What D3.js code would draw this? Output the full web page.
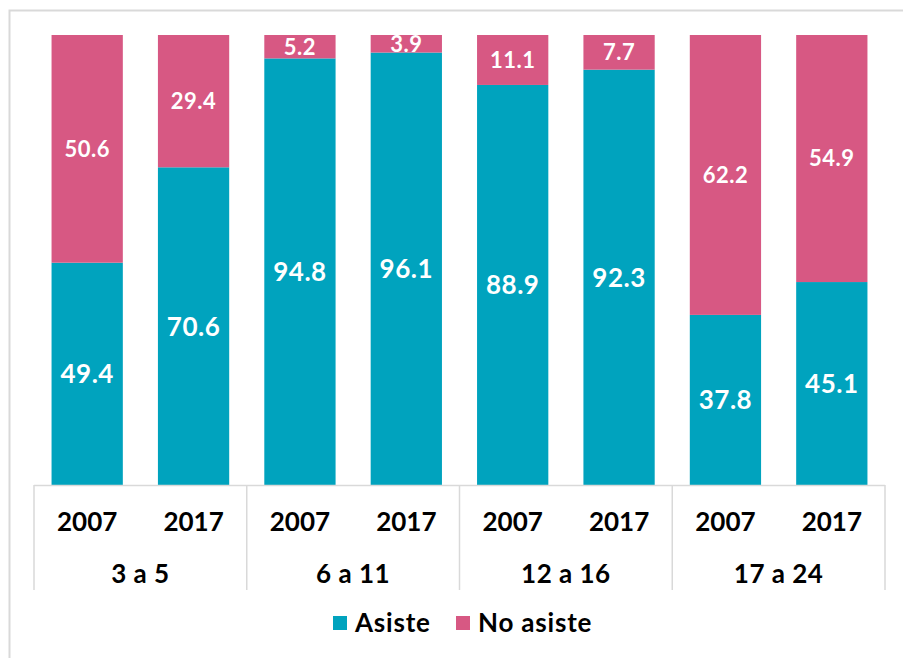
<!DOCTYPE html>
<html>
<head>
<meta charset="utf-8">
<script src="https://cdn.jsdelivr.net/npm/d3@7"></script>
<style>
  body { margin: 0; background: #fff; }
  svg { display: block; font-family: "Century Gothic", Lato, "Liberation Sans", sans-serif; font-weight: bold; }
</style>
</head>
<body>
<div id="chart"></div>
<script>
var groups = ["3 a 5", "6 a 11", "12 a 16", "17 a 24"];
var years = ["2007", "2017"];
var asiste = [49.4, 70.6, 94.8, 96.1, 88.9, 92.3, 37.8, 45.1];
var noAsiste = [50.6, 29.4, 5.2, 3.9, 11.1, 7.7, 62.2, 54.9];
var seriesNames = ["Asiste", "No asiste"];

function init() {
    var w = 903, h = 658;
    var teal = "#00a3be", pink = "#d75883";

    var svg = d3.select("#chart")
        .append("svg")
        .attr("width", w)
        .attr("height", h);

    // outer frame
    svg.append("rect")
        .attr("x", 9.5).attr("y", 10.5)
        .attr("width", 900).attr("height", 700)
        .attr("fill", "none")
        .attr("stroke", "#d9d9d9")
        .attr("stroke-width", 2);

    var data = [];
    groups.forEach(function(g, gi) {
        years.forEach(function(yr, yi) {
            var i = gi * years.length + yi;
            data.push({ group: g, year: yr, asiste: asiste[i], no: noAsiste[i] });
        });
    });

    var x0 = d3.scaleBand().domain(groups).range([34, 885]);
    var x1 = d3.scaleBand().domain(years).range([0, x0.bandwidth()])
        .paddingInner(0.33).paddingOuter(0.165);
    var y = d3.scaleLinear().domain([0, 100]).range([485, 35]);

    var bars = svg.selectAll("g.bar")
        .data(data)
        .enter()
        .append("g")
        .attr("class", "bar")
        .attr("transform", function(d) { return "translate(" + (x0(d.group) + x1(d.year)) + ",0)"; });

    bars.append("rect")
        .attr("y", function(d) { return y(d.asiste); })
        .attr("width", x1.bandwidth())
        .attr("height", function(d) { return y(0) - y(d.asiste); })
        .attr("fill", teal);

    bars.append("rect")
        .attr("y", function(d) { return y(d.asiste + d.no); })
        .attr("width", x1.bandwidth())
        .attr("height", function(d) { return y(d.asiste) - y(d.asiste + d.no); })
        .attr("fill", pink);

    bars.append("text")
        .attr("x", x1.bandwidth() / 2)
        .attr("y", function(d) { return (y(0) + y(d.asiste)) / 2; })
        .attr("dy", "0.36em")
        .attr("text-anchor", "middle")
        .attr("fill", "#fff")
        .attr("font-size", 26)
        .attr("letter-spacing", 0.5)
        .text(function(d) { return d.asiste.toFixed(1); });

    bars.append("text")
        .attr("x", x1.bandwidth() / 2)
        .attr("y", function(d) { return (y(d.asiste) + y(d.asiste + d.no)) / 2; })
        .attr("dy", "0.36em")
        .attr("text-anchor", "middle")
        .attr("fill", "#fff")
        .attr("font-size", 22)
        .attr("letter-spacing", 0.5)
        .text(function(d) { return d.no.toFixed(1); });

    // category axis with two levels
    var axis = svg.append("g");
    axis.append("line")
        .attr("x1", 34).attr("x2", 885)
        .attr("y1", 485.5).attr("y2", 485.5)
        .attr("stroke", "#d9d9d9").attr("stroke-width", 1.5);

    var seps = groups.map(function(g) { return x0(g); }).concat([885]);
    axis.selectAll("line.sep")
        .data(seps)
        .enter()
        .append("line")
        .attr("class", "sep")
        .attr("x1", function(d) { return d; }).attr("x2", function(d) { return d; })
        .attr("y1", 485).attr("y2", 590)
        .attr("stroke", "#d9d9d9").attr("stroke-width", 1.5);

    axis.selectAll("text.year")
        .data(data)
        .enter()
        .append("text")
        .attr("class", "year")
        .attr("x", function(d) { return x0(d.group) + x1(d.year) + x1.bandwidth() / 2; })
        .attr("y", 531)
        .attr("text-anchor", "middle")
        .attr("font-size", 26)
        .attr("fill", "#000")
        .text(function(d) { return d.year; });

    axis.selectAll("text.group")
        .data(groups)
        .enter()
        .append("text")
        .attr("class", "group")
        .attr("x", function(d) { return x0(d) + x0.bandwidth() / 2; })
        .attr("y", 583)
        .attr("text-anchor", "middle")
        .attr("font-size", 26)
        .attr("letter-spacing", 0.5)
        .attr("fill", "#000")
        .text(function(d) { return d; });

    // legend
    var legendX = [333, 456];
    var legend = svg.selectAll("g.legend")
        .data(seriesNames)
        .enter()
        .append("g")
        .attr("class", "legend")
        .attr("transform", function(d, i) { return "translate(" + legendX[i] + ",616)"; });

    legend.append("rect")
        .attr("width", 14).attr("height", 14)
        .attr("fill", function(d, i) { return i === 0 ? teal : pink; });

    legend.append("text")
        .attr("x", 22)
        .attr("y", 7)
        .attr("dy", "0.36em")
        .attr("font-size", 26)
        .attr("letter-spacing", 0.8)
        .attr("fill", "#000")
        .text(function(d) { return d; });
}

window.onload = init;
</script>
</body>
</html>
